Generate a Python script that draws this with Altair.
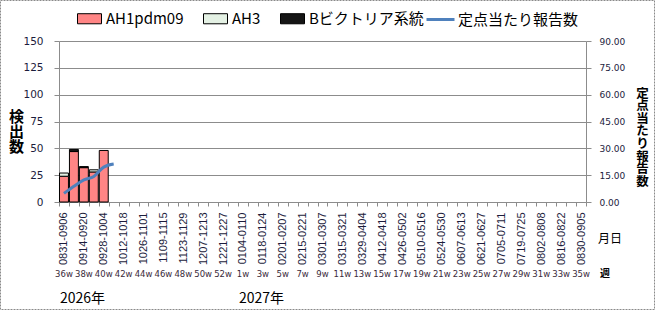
import altair as alt
import pandas as pd

JP = "Noto Sans CJK JP"

# --- categories (weeks) ---
weeks = ["36w", "37w", "38w", "39w", "40w", "41w", "42w", "43w", "44w", "45w", "46w",
         "47w", "48w", "49w", "50w", "51w", "52w", "53w", "1w", "2w", "3w", "4w", "5w",
         "6w", "7w", "8w", "9w", "10w", "11w", "12w", "13w", "14w", "15w", "16w", "17w",
         "18w", "19w", "20w", "21w", "22w", "23w", "24w", "25w", "26w", "27w", "28w",
         "29w", "30w", "31w", "32w", "33w", "34w", "35w"]
label_weeks = weeks[::2]
date_labels = ["0831-0906", "0914-0920", "0928-1004", "1012-1018", "1026-1101",
               "1109-1115", "1123-1129", "1207-1213", "1221-1227", "0104-0110",
               "0118-0124", "0201-0207", "0215-0221", "0301-0307", "0315-0321",
               "0329-0404", "0412-0418", "0426-0502", "0510-0516", "0524-0530",
               "0607-0613", "0621-0627", "0705-0711", "0719-0725", "0802-0808",
               "0816-0822", "0830-0905"]

# --- series ---
bar_weeks = ["36w", "37w", "38w", "39w", "40w"]
ah1 = [24, 47, 32, 28, 48]
ah3 = [3, 0, 0, 2, 0]
bvic = [0, 2, 1, 0, 0]

line_weeks = ["36w", "37w", "38w", "39w", "40w", "41w"]
rate = [4.8, 8.8, 12.4, 14.3, 19.5, 21.2]

types = ["AH1pdm09", "AH3", "Bビクトリア系統"]
type_colors = ["#FF8585", "#E4F1E4", "#151515"]
line_name = "定点当たり報告数"
line_color = "#4F81BD"

years = ["2026年", "2027年"]
year_weeks = ["36w", "1w"]

# --- tables ---
rows = []
for i, w in enumerate(bar_weeks):
    for k, (t, vals) in enumerate(zip(types, [ah1, ah3, bvic])):
        if vals[i] > 0:
            rows.append({"wk": w, "type": t, "count": vals[i], "ord": k})
bars_df = pd.DataFrame(rows)
line_df = pd.DataFrame({"wk": line_weeks, "rate": rate, "series": line_name})
wk_df = pd.DataFrame({"wk": label_weeks})
year_df = pd.DataFrame({"wk": year_weeks, "label": years})

keys_js = "[" + ",".join("'%s'" % k for k in label_weeks) + "]"
dates_js = "[" + ",".join("'%s'" % d for d in date_labels) + "]"
label_expr = "indexof(%s, datum.value) >= 0 ? %s[indexof(%s, datum.value)] : ''" % (
    keys_js, dates_js, keys_js)

W, H = 527, 161
LBL = "#1c1c3c"
GRID = "#8c8c8c"

x_enc = alt.X(
    "wk:N",
    sort=weeks,
    scale=alt.Scale(domain=weeks, paddingInner=0, paddingOuter=0),
    axis=alt.Axis(
        title=None, labelExpr=label_expr, labelAngle=270, labelFont="Liberation Sans",
        labelFontSize=11, labelColor=LBL, labelPadding=6, tickSize=4, tickBand="extent",
        domainColor=GRID, tickColor=GRID, grid=False, labelOverlap=False,
    ),
)

bars = alt.Chart(bars_df).mark_bar(
    stroke="black", strokeWidth=1, width=alt.RelativeBandSize(0.9)
).encode(
    x=x_enc,
    y=alt.Y(
        "count:Q", stack="zero", scale=alt.Scale(domain=[0, 150]),
        axis=alt.Axis(
            values=[0, 25, 50, 75, 100, 125, 150], grid=True, gridColor=GRID,
            domainColor=GRID, tickColor=GRID, tickSize=5, labelPadding=11,
            labelFont="DejaVu Sans", labelFontSize=10.5, labelColor=LBL,
            title=["検", "出", "数"], titleAngle=0, titleFont=JP, titleFontSize=15,
            titleFontWeight="bold", titleLineHeight=15, titleX=-43, titleY=68,
            titleAlign="center", titleBaseline="top", titleColor="black",
        ),
    ),
    fill=alt.Fill(
        "type:N", scale=alt.Scale(domain=types, range=type_colors),
        legend=alt.Legend(
            orient="none", legendX=18, legendY=-35, direction="horizontal", title=None,
            symbolType="M-1,-0.42H1V0.42H-1Z", symbolSize=576, symbolStrokeColor="black",
            symbolStrokeWidth=1, symbolOpacity=1, labelFont=JP, labelFontSize=15,
            labelColor="black", labelOffset=4, columnPadding=17, labelLimit=300, padding=0,
        ),
    ),
    order=alt.Order("ord:Q", sort="ascending"),
)

line = alt.Chart(line_df).mark_line(strokeWidth=3, interpolate="monotone").encode(
    x=x_enc,
    y=alt.Y(
        "rate:Q", scale=alt.Scale(domain=[0, 90]),
        axis=alt.Axis(
            orient="right", values=[0, 15, 30, 45, 60, 75, 90], format=".2f", grid=False,
            domainColor=GRID, tickColor=GRID, tickSize=5, labelPadding=8,
            labelFont="DejaVu Sans", labelFontSize=9, labelColor=LBL,
            title=list(line_name), titleAngle=0, titleFont=JP, titleFontSize=12.5,
            titleFontWeight="bold", titleLineHeight=12.6, titleX=56, titleY=46,
            titleAlign="center", titleBaseline="top", titleColor="black",
        ),
    ),
    stroke=alt.Stroke(
        "series:N", scale=alt.Scale(domain=[line_name], range=[line_color]),
        legend=alt.Legend(
            orient="none", legendX=366, legendY=-37, title=None, symbolType="stroke",
            symbolSize=784, symbolStrokeWidth=3, labelFont=JP, labelFontSize=15,
            labelColor="black", labelOffset=2, labelLimit=300, padding=0,
        ),
    ),
)

week_row = alt.Chart(wk_df).mark_text(
    font="DejaVu Sans", fontSize=8.5, color="#3a2a3a", baseline="middle"
).encode(x=x_enc, y=alt.value(273.5 - 41), text="wk:N")

year_text = alt.Chart(year_df).mark_text(
    font=JP, fontSize=14, color="black", align="left", baseline="middle", dx=-4
).encode(x=x_enc, y=alt.value(298.5 - 41), text="label:N")

tsuki = alt.Chart(pd.DataFrame({"t": ["月日"]})).mark_text(
    font=JP, fontSize=12, color="black", align="left", baseline="middle"
).encode(x=alt.value(598 - 59), y=alt.value(239 - 41), text="t:N")

shu = alt.Chart(pd.DataFrame({"t": ["週"]})).mark_text(
    font=JP, fontSize=10, fontWeight="bold", color="black", align="center", baseline="middle"
).encode(x=alt.value(605 - 59), y=alt.value(274 - 41), text="t:N")

border = alt.Chart(pd.DataFrame({"a": [0]})).mark_rect(
    fill="transparent", stroke="#8a8a8a", strokeDash=[2, 1], strokeWidth=1
).encode(x=alt.value(-58.5), x2=alt.value(595.5), y=alt.value(-40.5), y2=alt.value(268.5))

chart = alt.layer(bars, line, week_row, year_text, tsuki, shu, border).resolve_scale(
    y="independent"
).properties(
    width=W, height=H,
    autosize=alt.AutoSizeParams(type="none"),
    padding={"left": 59, "top": 41, "right": 69, "bottom": 108},
    background="white",
).configure_view(stroke="transparent")

chart.save("out.html", embed_options={"renderer": "svg", "actions": False})
